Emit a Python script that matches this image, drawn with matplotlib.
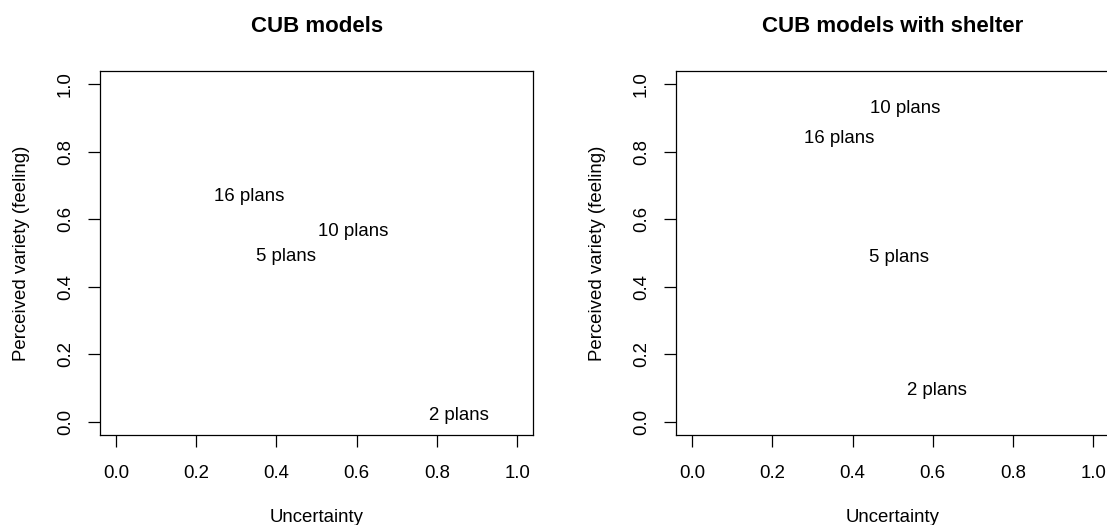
import matplotlib
matplotlib.use("Agg")
import matplotlib.pyplot as plt

plt.rcParams['font.family'] = ['Liberation Sans', 'DejaVu Sans']

# labels of the points
plan_labels = ["2 plans", "5 plans", "10 plans", "16 plans"]

# CUB models
cub_uncertainty = [0.856, 0.423, 0.591, 0.333]
cub_feeling = [0.025, 0.495, 0.570, 0.672]

# CUB models with shelter
shelter_uncertainty = [0.610, 0.516, 0.531, 0.366]
shelter_feeling = [0.098, 0.491, 0.933, 0.844]

ticks = [0.0, 0.2, 0.4, 0.6, 0.8, 1.0]
tick_labels = ["0.0", "0.2", "0.4", "0.6", "0.8", "1.0"]

fig = plt.figure(figsize=(11.07, 5.25), dpi=100)
ax1 = fig.add_axes([0.0903, 0.1714, 0.3914, 0.6939])
ax2 = fig.add_axes([0.6107, 0.1714, 0.3914, 0.6939])

fs = 13.4


def draw_panel(ax, xs, ys, title):
    for x, y, lab in zip(xs, ys, plan_labels):
        ax.text(x, y, lab, ha='center', va='center_baseline', fontsize=fs)
    ax.set_xlim(-0.04, 1.04)
    ax.set_ylim(-0.04, 1.04)
    ax.set_xticks(ticks)
    ax.set_xticklabels(tick_labels)
    ax.set_yticks(ticks)
    ax.set_yticklabels(tick_labels, rotation=90, va='center')
    ax.tick_params(axis='x', length=8.6, width=0.9, pad=13.0, labelsize=fs)
    ax.tick_params(axis='y', length=8.6, width=0.9, pad=10.2, labelsize=fs)
    for sp in ax.spines.values():
        sp.set_linewidth(0.9)
    ax.set_title(title, fontsize=16, fontweight='bold', pad=27.6)
    ax.set_xlabel("Uncertainty", fontsize=fs)
    ax.set_ylabel("Perceived variety (feeling)", fontsize=fs)
    ax.xaxis.set_label_coords(0.5, -0.203)
    ax.yaxis.set_label_coords(-0.161, 0.5)


draw_panel(ax1, cub_uncertainty, cub_feeling, "CUB models")
draw_panel(ax2, shelter_uncertainty, shelter_feeling, "CUB models with shelter")

fig.savefig("out.png", dpi=100)
